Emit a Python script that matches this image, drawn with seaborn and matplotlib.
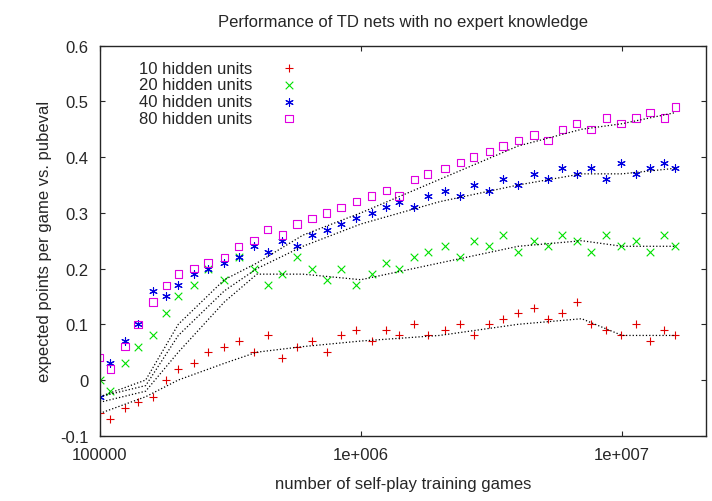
import numpy as np
import pandas as pd
import matplotlib
matplotlib.use("Agg")
import matplotlib.pyplot as plt
import seaborn as sns
from matplotlib.ticker import FixedLocator, NullLocator

games = [1.0e5, 1.1e5, 1.25e5, 1.4e5, 1.6e5, 1.8e5, 2.0e5, 2.3e5, 2.6e5, 3.0e5, 3.4e5,
         3.9e5, 4.4e5, 5.0e5, 5.7e5, 6.5e5, 7.4e5, 8.4e5, 9.6e5, 1.1e6, 1.25e6, 1.4e6,
         1.6e6, 1.8e6, 2.1e6, 2.4e6, 2.7e6, 3.1e6, 3.5e6, 4.0e6, 4.6e6, 5.2e6, 5.9e6,
         6.7e6, 7.6e6, 8.7e6, 9.9e6, 1.13e7, 1.28e7, 1.45e7, 1.6e7]
h10 = [-0.06, -0.07, -0.05, -0.04, -0.03, 0.0, 0.02, 0.03, 0.05, 0.06, 0.07, 0.05, 0.08, 0.04,
       0.06, 0.07, 0.05, 0.08, 0.09, 0.07, 0.09, 0.08, 0.1, 0.08, 0.09, 0.1, 0.08, 0.1, 0.11,
       0.12, 0.13, 0.11, 0.12, 0.14, 0.1, 0.09, 0.08, 0.1, 0.07, 0.09, 0.08]
h20 = [0.0, -0.02, 0.03, 0.06, 0.08, 0.12, 0.15, 0.17, 0.2, 0.18, 0.22, 0.2, 0.17, 0.19, 0.22,
       0.2, 0.18, 0.2, 0.17, 0.19, 0.21, 0.2, 0.22, 0.23, 0.24, 0.22, 0.25, 0.24, 0.26, 0.23,
       0.25, 0.24, 0.26, 0.25, 0.23, 0.26, 0.24, 0.25, 0.23, 0.26, 0.24]
h40 = [-0.03, 0.03, 0.07, 0.1, 0.16, 0.15, 0.17, 0.19, 0.2, 0.21, 0.22, 0.24, 0.23, 0.25, 0.24,
       0.26, 0.27, 0.28, 0.29, 0.3, 0.31, 0.32, 0.31, 0.33, 0.34, 0.33, 0.35, 0.34, 0.36, 0.35,
       0.37, 0.36, 0.38, 0.37, 0.38, 0.36, 0.39, 0.37, 0.38, 0.39, 0.38]
h80 = [0.04, 0.02, 0.06, 0.1, 0.14, 0.17, 0.19, 0.2, 0.21, 0.22, 0.24, 0.25, 0.27, 0.26, 0.28,
       0.29, 0.3, 0.31, 0.32, 0.33, 0.34, 0.33, 0.36, 0.37, 0.38, 0.39, 0.4, 0.41, 0.42, 0.43,
       0.44, 0.43, 0.45, 0.46, 0.45, 0.47, 0.46, 0.47, 0.48, 0.47, 0.49]

trend_x = [1e5, 1.5e5, 2e5, 3e5, 4e5, 6e5, 1e6, 2e6, 4e6, 7e6, 1e7, 1.6e7]
trend10 = [-0.06, -0.03, 0.0, 0.03, 0.05, 0.06, 0.07, 0.08, 0.1, 0.11, 0.08, 0.08]
trend20 = [-0.04, -0.02, 0.05, 0.14, 0.19, 0.19, 0.18, 0.21, 0.24, 0.25, 0.24, 0.24]
trend40 = [-0.03, -0.01, 0.08, 0.16, 0.2, 0.24, 0.28, 0.32, 0.35, 0.37, 0.37, 0.38]
trend80 = [-0.03, 0.0, 0.1, 0.18, 0.21, 0.26, 0.3, 0.36, 0.42, 0.45, 0.46, 0.48]

sns.set_style("ticks")
plt.rcParams['font.family'] = ['Liberation Sans', 'DejaVu Sans']

fig = plt.figure(figsize=(7.12, 5.02), dpi=100)
ax = fig.add_axes([0.14, 0.13, 0.852, 0.777])

series = [("10 hidden units", h10, "#e00000", "+", trend10),
          ("20 hidden units", h20, "#00e000", "x", trend20),
          ("40 hidden units", h40, "#0000e0", (6, 2, 0), trend40),
          ("80 hidden units", h80, "#e000e0", "s", trend80)]

for label, vals, col, mk, tr in series:
    df = pd.DataFrame({"games": games, "val": vals})
    if mk == "s":
        ax.scatter(df.games, df.val, marker="s", facecolors="none", edgecolors=col,
                   s=28, linewidths=0.8, label=label)
    else:
        ax.scatter(df.games, df.val, marker=mk, color=col, s=30, linewidths=0.8, label=label)
    sns.lineplot(x=trend_x, y=tr, ax=ax, color="black", linestyle=":", linewidth=0.9)

ax.set_xscale("log")
ax.set_xlim(1e5, 2.1e7)
ax.set_ylim(-0.1, 0.6)
ax.xaxis.set_major_locator(FixedLocator([1e5, 1e6, 1e7]))
ax.xaxis.set_minor_locator(NullLocator())
ax.set_xticklabels(["100000", "1e+006", "1e+007"])
ax.set_yticks(np.arange(-0.1, 0.61, 0.1))
ax.set_yticklabels(["-0.1", "0", "0.1", "0.2", "0.3", "0.4", "0.5", "0.6"])
ax.tick_params(direction="in", labelsize=12, top=True, right=True, pad=8)
ax.set_xlabel("number of self-play training games", fontsize=12, labelpad=10)
ax.set_ylabel("expected points per game vs. pubeval", fontsize=12, labelpad=6)
ax.set_title("Performance of TD nets with no expert knowledge", fontsize=12, pad=14)
ax.legend(loc="upper left", frameon=False, markerfirst=False, fontsize=12,
          bbox_to_anchor=(0.04, 1.0), handletextpad=1.2, labelspacing=0.1)
for s in ax.spines.values():
    s.set_linewidth(1.0)

fig.savefig("out.png", dpi=100)
